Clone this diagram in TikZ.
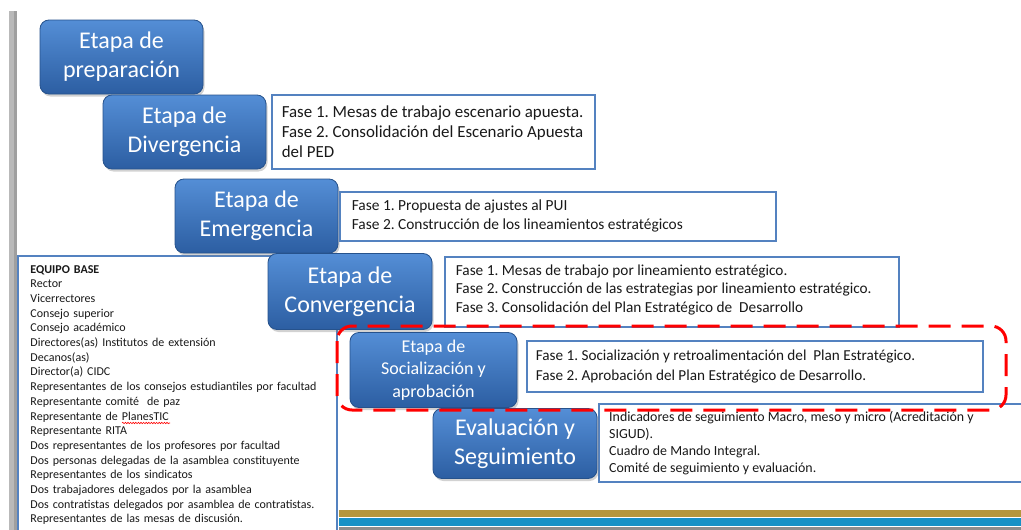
\documentclass[tikz,border=0pt]{standalone}
\usepackage{fontspec}
\setmainfont{Carlito}
\usetikzlibrary{shadows,decorations.pathmorphing}
\definecolor{stTop}{RGB}{84,142,214}
\definecolor{stBot}{RGB}{44,94,162}
\definecolor{stLine}{RGB}{38,82,140}
\definecolor{bxLine}{RGB}{84,130,192}
\definecolor{goldbar}{RGB}{180,150,60}
\definecolor{bluebar}{RGB}{22,145,198}
\definecolor{graybar}{RGB}{140,140,140}
\definecolor{txt}{RGB}{25,25,25}
\begin{document}
\frenchspacing
\begin{tikzpicture}[x=1pt,y=-1pt,
  stage/.style={rounded corners=9pt, draw=stLine, line width=0.8pt,
    top color=stTop, bottom color=stBot, text=white, align=center, inner sep=0pt,
    drop shadow={shadow xshift=1.5pt, shadow yshift=-2.5pt, opacity=0.35}},
  bigtxt/.style={font=\fontsize{24}{29}\selectfont},
  tbox/.style={draw=bxLine, line width=2.8pt, fill=white, inner sep=0pt},
  ttext/.style={anchor=west, align=left, text=txt, inner sep=0pt},
  dashbox/.style={draw=red, line width=3pt, rounded corners=15pt,
    dash pattern=on 22pt off 11pt}
]
\useasboundingbox (0,0) rectangle (1021,530);
\clip (0,0) rectangle (1021,530);
\fill[white] (0,0) rectangle (1021,530);
% left gray bar
\fill[gray!55] (9,11) rectangle (17,530);
\fill[gray!75] (14,11) rectangle (17,530);

% list box
\node[draw=bxLine, line width=2pt, fill=white, text=txt, align=left,
  minimum width=319pt, minimum height=278pt, text width=294pt, inner xsep=12.5pt,
  inner ysep=0pt, font=\fontsize{12}{14.7}\selectfont] (lista) at (177.5,395) {%
\textbf{EQUIPO BASE}\\
Rector\\
Vicerrectores\\
Consejo superior\\
Consejo académico\\
Directores(as) Institutos de extensión\\
Decanos(as)\\
Director(a) CIDC\\
Representantes de los consejos estudiantiles por facultad\\
Representante comité\ \ de paz\\
Representante de PlanesTIC\\
Representante RITA\\
Dos representantes de los profesores por facultad\\
Dos personas delegadas de la asamblea constituyente\\
Representantes de los sindicatos\\
Dos trabajadores delegados por la asamblea\\
Dos contratistas delegados por asamblea de contratistas.\\
Representantes de las mesas de discusión.};
\draw[red, line width=0.6pt, decorate, decoration={snake, amplitude=0.7pt, segment length=2.6pt}]
  (122,423) -- (170,423);

% bottom bars
\fill[goldbar] (339,510) rectangle (1021,517);
\fill[bluebar] (339,518) rectangle (1021,526);
\fill[graybar] (339,526.5) rectangle (1021,530);

% stages
\node[stage, bigtxt, minimum width=163pt, minimum height=74pt] (prep) at (121.5,57) {Etapa de\\preparación};
\node[stage, bigtxt, minimum width=163pt, minimum height=74pt] (div) at (184.5,132) {Etapa de\\Divergencia};
\node[stage, bigtxt, minimum width=163pt, minimum height=74pt] (emer) at (256.5,216) {Etapa de\\Emergencia};
\node[stage, bigtxt, minimum width=164pt, minimum height=76pt] (conv) at (350,291.5) {Etapa de\\Convergencia};
\node[stage, font=\fontsize{18}{22.5}\selectfont, minimum width=167pt, minimum height=75pt] (soc) at (433.5,370) {Etapa de\\Socialización y\\aprobación};

% text boxes
\node[tbox, minimum width=323pt, minimum height=74pt] (divT) at (433.5,132) {};
\node[ttext, font=\fontsize{16.9}{20}\selectfont] (divTx) at ([xshift=11pt]divT.west)
 {Fase 1. Mesas de trabajo escenario apuesta.\\Fase 2. Consolidación del Escenario Apuesta\\del PED};
\node[tbox, minimum width=436pt, minimum height=49pt] (emerT) at (558,216.5) {};
\node[ttext, font=\fontsize{15.4}{19}\selectfont] (emerTx) at ([xshift=13pt,yshift=0.5pt]emerT.west)
 {Fase 1. Propuesta de ajustes al PUI\\Fase 2. Construcción de los lineamientos estratégicos};
\node[tbox, minimum width=454pt, minimum height=70pt] (convT) at (672,292) {};
\node[ttext, font=\fontsize{15.3}{18.5}\selectfont] (convTx) at ([xshift=12pt,yshift=2pt]convT.west)
 {Fase 1. Mesas de trabajo por lineamiento estratégico.\\Fase 2. Construcción de las estrategias por lineamiento estratégico.\\Fase 3. Consolidación del Plan Estratégico de\ \ Desarrollo};
\node[tbox, minimum width=456pt, minimum height=51pt] (socT) at (755,366.5) {};
\node[ttext, font=\fontsize{15.2}{20}\selectfont] (socTx) at ([xshift=10pt]socT.west)
 {Fase 1. Socialización y retroalimentación del\ \ Plan Estratégico.\\Fase 2. Aprobación del Plan Estratégico de Desarrollo.};
\node[tbox, line width=2pt, minimum width=431pt, minimum height=78pt] (evalT) at (814.5,443) {};
\node[ttext, font=\fontsize{13.9}{17}\selectfont] (evalTx) at ([xshift=11pt]evalT.west)
 {Indicadores de seguimiento Macro, meso y micro (Acreditación y\\SIGUD).\\Cuadro de Mando Integral.\\Comité de seguimiento y evaluación.};
\node[stage, bigtxt, minimum width=164pt, minimum height=70pt] (eval) at (515,443.5) {Evaluación y\\Seguimiento};

% red dashed highlight
\draw[dashbox] (337,326) rectangle (1006,410);
\end{tikzpicture}
\end{document}
